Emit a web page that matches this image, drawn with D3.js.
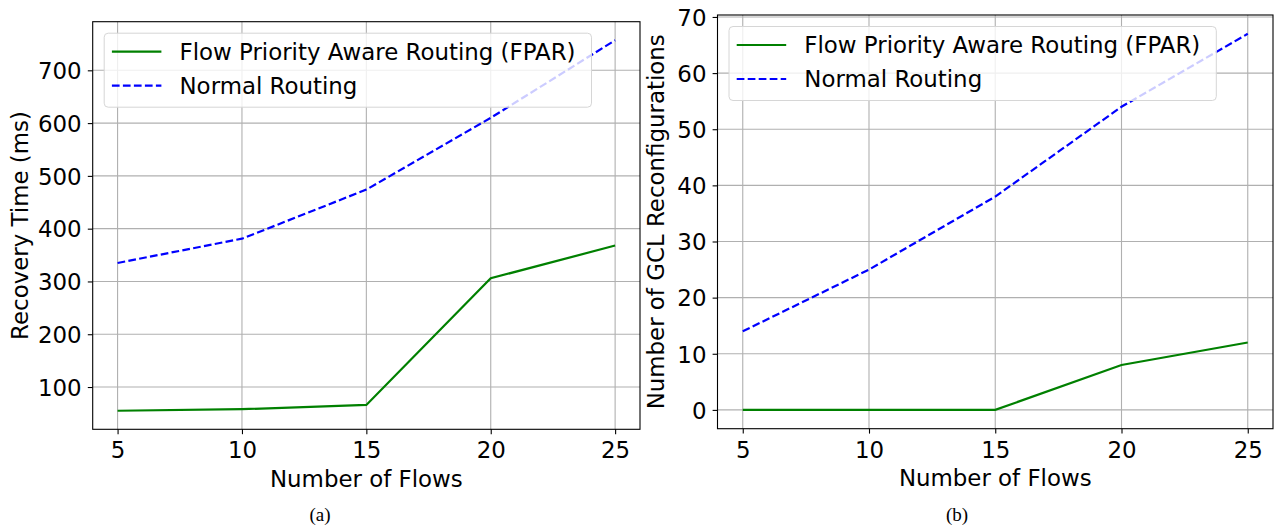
<!DOCTYPE html>
<html>
<head>
<meta charset="utf-8">
<script src="https://cdn.jsdelivr.net/npm/d3@7"></script>
<style>
  body { margin: 0; background: #fff; }
  text { font-family: "DejaVu Sans", sans-serif; fill: #000; }
</style>
</head>
<body>
<svg id="chart" width="1274" height="528"></svg>
<script>
// values
const flows = [5, 10, 15, 20, 25];
const fparRecovery = [55, 58, 66, 306, 368];
const normalRecovery = [335, 381, 474, 610, 757];
const fparGcl = [0, 0, 0, 8, 12];
const normalGcl = [14, 25, 38, 54, 67];

const flowTicks = [5, 10, 15, 20, 25];
const recoveryTicks = [100, 200, 300, 400, 500, 600, 700];
const gclTicks = [0, 10, 20, 30, 40, 50, 60, 70];

const seriesNames = ["Flow Priority Aware Routing (FPAR)", "Normal Routing"];
const captions = ["(a)", "(b)"];

const fontSize = 22.9;

let svg = d3.select("#chart");

// matplotlib style 5% margins
function padded(values) {
    let ext = d3.extent(values);
    let m = (ext[1] - ext[0]) * 0.05;
    return [ext[0] - m, ext[1] + m];
}

function drawPanel(p) {
    let g = svg.append("g");

    let x = d3.scaleLinear().domain(padded(flows)).range([p.left, p.right]);
    let y = d3.scaleLinear().domain(padded(p.fpar.concat(p.normal))).range([p.bottom, p.top]);

    // grid
    g.selectAll("line.vgrid")
        .data(flowTicks)
        .enter()
        .append("line")
        .attr("x1", d => x(d)).attr("x2", d => x(d))
        .attr("y1", p.top).attr("y2", p.bottom)
        .attr("stroke", "#b0b0b0").attr("stroke-width", 1.1);
    g.selectAll("line.hgrid")
        .data(p.yTicks)
        .enter()
        .append("line")
        .attr("y1", d => y(d)).attr("y2", d => y(d))
        .attr("x1", p.left).attr("x2", p.right)
        .attr("stroke", "#b0b0b0").attr("stroke-width", 1.1);

    let line = d3.line()
        .x((d, i) => x(flows[i]))
        .y(d => y(d));

    g.append("path")
        .datum(p.fpar)
        .attr("d", line)
        .attr("fill", "none")
        .attr("stroke", "#008000")
        .attr("stroke-width", 2.2);

    g.append("path")
        .datum(p.normal)
        .attr("d", line)
        .attr("fill", "none")
        .attr("stroke", "#0000ff")
        .attr("stroke-width", 2.2)
        .attr("stroke-dasharray", "7.7,3.3");

    // axes with outward ticks
    let xAxis = d3.axisBottom(x).tickValues(flowTicks).tickSize(4.9).tickPadding(4.9);
    let yAxis = d3.axisLeft(y).tickValues(p.yTicks).tickSize(4.9).tickPadding(4.9);

    let gx = g.append("g").attr("transform", `translate(0,${p.bottom})`).call(xAxis);
    let gy = g.append("g").attr("transform", `translate(${p.left},0)`).call(yAxis);
    [gx, gy].forEach(a => {
        a.select(".domain").remove();
        a.selectAll(".tick line").attr("stroke", "#000").attr("stroke-width", 1.1);
        a.selectAll(".tick text")
            .style("font-family", "DejaVu Sans")
            .style("font-size", fontSize + "px")
            .attr("fill", "#000");
    });
    gx.selectAll(".tick text").attr("dy", null).attr("y", 29);
    gy.selectAll(".tick text").attr("dy", "0.36em").attr("x", -11);

    // frame
    g.append("rect")
        .attr("x", p.left).attr("y", p.top)
        .attr("width", p.right - p.left).attr("height", p.bottom - p.top)
        .attr("fill", "none").attr("stroke", "#000").attr("stroke-width", 1.1);

    // axis labels
    g.append("text")
        .attr("x", (p.left + p.right) / 2)
        .attr("y", p.bottom + 57.5)
        .attr("text-anchor", "middle")
        .style("font-size", fontSize + "px")
        .text("Number of Flows");

    g.append("text")
        .attr("transform", `translate(${p.yLabelX},${(p.top + p.bottom) / 2}) rotate(-90)`)
        .attr("text-anchor", "middle")
        .style("font-size", fontSize + "px")
        .text(p.yLabel);

    // legend
    let lx = p.left + 11.5, ly = p.top + 11.5;
    let legend = g.append("g");
    let box = legend.append("rect")
        .attr("x", lx).attr("y", ly)
        .attr("height", 74)
        .attr("rx", 4).attr("ry", 4)
        .attr("fill", "#fff").attr("fill-opacity", 0.8)
        .attr("stroke", "#d6d6d6").attr("stroke-width", 1);

    let rows = [
        {name: seriesNames[0], color: "#008000", dash: null},
        {name: seriesNames[1], color: "#0000ff", dash: "7.7,3.3"}
    ];
    let maxW = 0;
    rows.forEach((r, i) => {
        let ry = ly + 18.5 + i * 34;
        legend.append("line")
            .attr("x1", lx + 7.7).attr("x2", lx + 57.2)
            .attr("y1", ry).attr("y2", ry)
            .attr("stroke", r.color).attr("stroke-width", 2.2)
            .attr("stroke-dasharray", r.dash);
        let t = legend.append("text")
            .attr("x", lx + 75.3).attr("y", ry)
            .attr("dy", "0.36em")
            .style("font-size", fontSize + "px")
            .text(r.name);
        maxW = Math.max(maxW, t.node().getComputedTextLength());
    });
    box.attr("width", 75.3 + maxW + 16);

    // caption below the panel
    svg.append("text")
        .attr("x", p.captionX).attr("y", 521)
        .attr("text-anchor", "middle")
        .style("font-family", "Liberation Serif")
        .style("font-size", "19px")
        .text(p.caption);
}

drawPanel({
    left: 92.7, right: 640, top: 21.7, bottom: 429.3,
    fpar: fparRecovery, normal: normalRecovery,
    yTicks: recoveryTicks,
    yLabel: "Recovery Time (ms)", yLabelX: 28,
    caption: captions[0], captionX: 320
});

drawPanel({
    left: 717.5, right: 1273, top: 15, bottom: 428.7,
    fpar: fparGcl, normal: normalGcl,
    yTicks: gclTicks,
    yLabel: "Number of GCL Reconfigurations", yLabelX: 663.5,
    caption: captions[1], captionX: 957
});
</script>
</body>
</html>
